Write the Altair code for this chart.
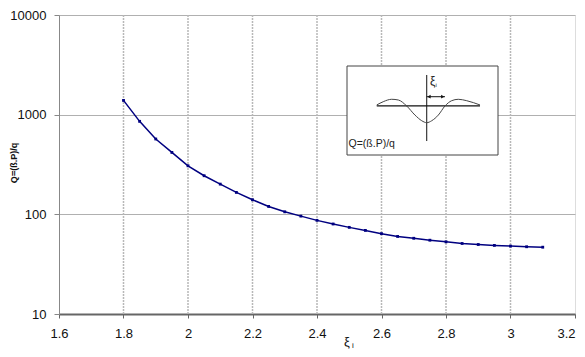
import altair as alt
import pandas as pd

# ---- data ----
xi = [1.80, 1.85, 1.90, 1.95, 2.00, 2.05, 2.10, 2.15, 2.20, 2.25, 2.30, 2.35, 2.40,
      2.45, 2.50, 2.55, 2.60, 2.65, 2.70, 2.75, 2.80, 2.85, 2.90, 2.95, 3.00, 3.05, 3.10]
Q = [1390, 857, 570, 418, 307, 244, 201, 166, 140, 120, 106, 96, 87,
     80, 74, 69, 64, 60, 57.5, 55, 53, 51, 49.8, 48.8, 48, 47.3, 46.8]

x_ticks = [1.6, 1.8, 2.0, 2.2, 2.4, 2.6, 2.8, 3.0, 3.2]
x_grid = [1.8, 2.0, 2.2, 2.4, 2.6, 2.8, 3.0]
y_ticks = [10, 100, 1000, 10000]

# inset diagram (inset units 0..100)
wave_u = [19.7, 24.0, 29.6, 34.0, 39.5, 45.0, 49.5, 52.8, 56.1, 60.5, 64.9, 69.3, 73.7, 79.3, 88.1]
wave_v = [43.8, 40.1, 37.4, 38.2, 44.9, 55.1, 61.5, 63.7, 61.5, 55.1, 44.9, 39.0, 37.4, 39.0, 43.8]

FONT = "Liberation Sans"
W, H = 516, 299

df = pd.DataFrame({"xi": xi, "Q": Q})
df_grid = pd.DataFrame({"xi": x_grid})

xscale = alt.Scale(domain=[1.6, 3.2], nice=False, zero=False)
yscale = alt.Scale(type="log", domain=[10, 10000], nice=False)

xaxis = alt.Axis(values=x_ticks, format=".1~f", grid=False, title=None,
                 domainColor="#666666", domainWidth=2, tickColor="#666666", tickSize=4,
                 labelFont=FONT, labelFontSize=13, labelColor="#111111", labelPadding=9,
                 labelFlush=False,
                 labelAlign=alt.expr("datum.value >= 3.19 ? 'right' : 'center'"))
yaxis = alt.Axis(values=y_ticks, format="d", grid=True, gridColor="#b0b0b0", gridWidth=1,
                 title=None, domainColor="#888888", domainWidth=1, tickColor="#888888",
                 tickSize=5, labelFont=FONT, labelFontSize=13, labelColor="#111111",
                 labelPadding=8, labelFlush=False)

vgrid = alt.Chart(df_grid).mark_rule(color="#b8b8b8", strokeWidth=1.5, strokeDash=[2, 1]).encode(
    x=alt.X("xi:Q", scale=xscale, axis=xaxis)
)

curve = alt.Chart(df).mark_line(
    color="#000080", strokeWidth=1.5,
    point=alt.OverlayMarkDef(shape="square", size=8, filled=True, color="#000080")
).encode(
    x=alt.X("xi:Q", scale=xscale, axis=xaxis),
    y=alt.Y("Q:Q", scale=yscale, axis=yaxis),
)

one = pd.DataFrame({"a": [0]})
ytitle = alt.Chart(one).mark_text(
    text="Q=(ß.P)/q", angle=270, font=FONT, fontSize=9, fontWeight="bold",
    align="center", baseline="middle", color="#111111"
).encode(x=alt.value(-45), y=alt.value(148))

xtitle = alt.Chart(one).mark_text(
    text="ξ", font=FONT, fontSize=13, align="center", baseline="middle", color="#111111"
).encode(x=alt.value(288), y=alt.value(327))
xtitle_sub = alt.Chart(one).mark_text(
    text="i", font=FONT, fontSize=8, align="center", baseline="middle", color="#111111"
).encode(x=alt.value(294), y=alt.value(331))

main = alt.layer(vgrid, curve, ytitle, xtitle, xtitle_sub)

# ---- inset ----
us = alt.Scale(domain=[0, 100], range=[288, 439])
vs = alt.Scale(domain=[0, 100], range=[51, 140])

box = pd.DataFrame({"u": [0], "v": [0], "u2": [100], "v2": [100]})
inset_box = alt.Chart(box).mark_rect(fill="white", stroke="#444444", strokeWidth=1).encode(
    x=alt.X("u:Q", scale=us, axis=None), x2="u2:Q",
    y=alt.Y("v:Q", scale=vs, axis=None), y2="v2:Q",
)

base_line = pd.DataFrame({"u": [19.7], "u2": [88.1], "v": [44.9]})
inset_base = alt.Chart(base_line).mark_rule(color="#111111", strokeWidth=1.3).encode(
    x=alt.X("u:Q", scale=us, axis=None), x2="u2:Q",
    y=alt.Y("v:Q", scale=vs, axis=None),
)

vert_line = pd.DataFrame({"u": [52.8], "v": [10.1], "v2": [84.3]})
inset_vert = alt.Chart(vert_line).mark_rule(color="#111111", strokeWidth=1).encode(
    x=alt.X("u:Q", scale=us, axis=None),
    y=alt.Y("v:Q", scale=vs, axis=None), y2="v2:Q",
)

wave = pd.DataFrame({"u": wave_u, "v": wave_v, "o": list(range(len(wave_u)))})
inset_wave = alt.Chart(wave).mark_line(color="#444444", strokeWidth=1, interpolate="monotone").encode(
    x=alt.X("u:Q", scale=us, axis=None),
    y=alt.Y("v:Q", scale=vs, axis=None),
    order="o:Q",
)

arrow = pd.DataFrame({"u": [52.8], "u2": [64.9], "v": [34.5]})
inset_arrow = alt.Chart(arrow).mark_rule(color="#111111", strokeWidth=1).encode(
    x=alt.X("u:Q", scale=us, axis=None), x2="u2:Q",
    y=alt.Y("v:Q", scale=vs, axis=None),
)
heads = pd.DataFrame({"u": [54.3, 63.4], "v": [34.5, 34.5],
                      "s": ["triangle-left", "triangle-right"]})
inset_heads = alt.Chart(heads).mark_point(filled=True, size=14, color="#111111", opacity=1).encode(
    x=alt.X("u:Q", scale=us, axis=None),
    y=alt.Y("v:Q", scale=vs, axis=None),
    shape=alt.Shape("s:N", scale=None, legend=None),
)

labels = pd.DataFrame({"u": [55.0, 58.6, 1.0], "v": [16.5, 21.0, 88.0],
                       "t": ["ξ", "i", "Q=(ß.P)/q"], "fs": [12, 6, 10.5]})
inset_text = alt.Chart(labels).mark_text(font=FONT, align="left", baseline="middle",
                                         color="#222222").encode(
    x=alt.X("u:Q", scale=us, axis=None),
    y=alt.Y("v:Q", scale=vs, axis=None),
    text="t:N",
    size=alt.Size("fs:Q", scale=None, legend=None),
)

inset = alt.layer(inset_box, inset_base, inset_vert, inset_wave, inset_arrow, inset_heads, inset_text)

chart = alt.layer(main, inset).resolve_scale(x="independent", y="independent").properties(
    width=W, height=H,
    autosize=alt.AutoSizeParams(type="none"),
    padding={"left": 51, "top": 7, "right": 2, "bottom": 35},
).configure_view(stroke=None).configure(background="white")

chart.save("out.html", embed_options={"renderer": "svg", "actions": False})
